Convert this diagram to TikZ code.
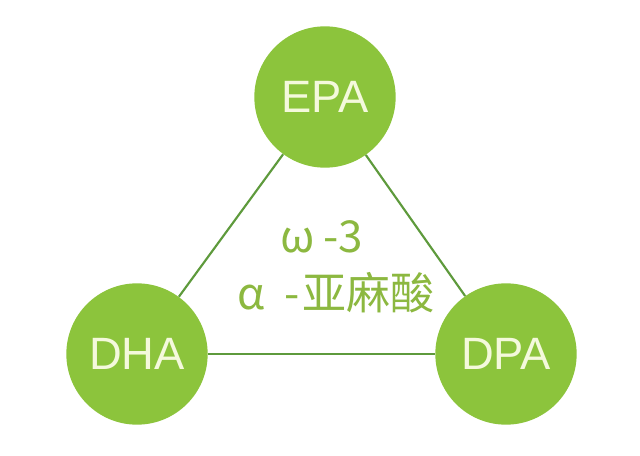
\documentclass[tikz,border=0pt]{standalone}
\usepackage{fontspec}
\setmainfont{Liberation Sans}
\newfontfamily\cjk{Noto Sans CJK SC}
\definecolor{limegreen}{HTML}{8CC43C}
\definecolor{darkline}{HTML}{5E9A3C}
\definecolor{labelgreen}{HTML}{8CB840}
\definecolor{paletext}{HTML}{F4F9DC}
\tikzset{
  acid/.style={circle,fill=limegreen,minimum size=106pt,inner sep=0pt,
    text=paletext,font=\fontsize{34}{34}\selectfont},
  link/.style={draw=darkline,line width=1.6pt},
  midtext/.style={text=labelgreen,font=\cjk\fontsize{33}{33}\selectfont}
}
\begin{document}
\begin{tikzpicture}[x=0.75pt,y=-0.75pt]
\useasboundingbox[fill=white] (0,0) rectangle (640,455);
%% the three acids
\node[acid] (epa) at (325,97) {EPA};
\node[acid] (dha) at (137,354) {DHA};
\node[acid] (dpa) at (506,354) {DPA};
%% triangle
\draw[link] (epa) -- (dha);
\draw[link] (epa) -- (dpa);
\draw[link] (dha) -- (dpa);
%% centre text
\node[midtext] (omega) at (322,237) {ω\hspace{6pt}-3};
\node[midtext] (alpha) at (336,293) {α\hspace{14pt}-\hspace{2pt}亚麻酸};
\end{tikzpicture}
\end{document}
